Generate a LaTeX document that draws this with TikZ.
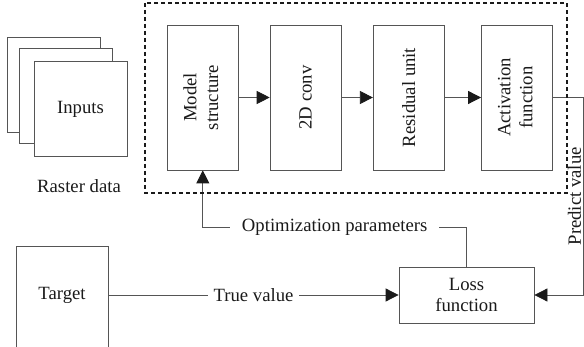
\documentclass[tikz,border=0pt]{standalone}
\usepackage{fontspec}
\setmainfont{Liberation Serif}
\usetikzlibrary{positioning,arrows.meta}
\definecolor{linegray}{HTML}{555555}
\definecolor{tipdark}{HTML}{1A1A1A}
\tikzset{
	txt/.style={font=\fontsize{18.7}{21.8}\selectfont, text=tipdark},
	block/.style={txt, draw=linegray, line width=0.8pt, fill=white, inner sep=0pt,
		minimum width=71pt, minimum height=145pt},
	sheet/.style={block, minimum width=93pt, minimum height=95pt},
	frame/.style={draw=tipdark, line width=1.1pt, dash pattern=on 4pt off 3pt},
	conn/.style={draw=linegray, line width=0.8pt},
	arr/.style={conn, -{Triangle[length=13pt, width=13pt, color=tipdark]}},
	lbl/.style={txt, fill=white, inner ysep=2pt, inner xsep=6pt}
}
\begin{document}
\begin{tikzpicture}[x=1pt, y=-1pt]
	\useasboundingbox (0,0) rectangle (584,347);
	\clip (0,0) rectangle (584,347);
	% input stack
	\node[sheet] (back) at (53.5,85) {};
	\node[sheet] (mid) at (65.5,95.5) {};
	\node[sheet] (inputs) at (80.5,109) {Inputs};
	\node[txt] (raster) at (79,186) {Raster data};
	% network blocks
	\node[block] (model) at (202.8,97.5)
		{\rotatebox{90}{\begin{tabular}{@{}c@{}}Model\\structure\end{tabular}}};
	\node[block, right=31pt of model] (conv) {\rotatebox{90}{2D conv}};
	\node[block, right=31.4pt of conv] (resid) {\rotatebox{90}{Residual unit}};
	\node[block, right=36.4pt of resid] (act)
		{\rotatebox{90}{\begin{tabular}{@{}c@{}}Activation\\function\end{tabular}}};
	% loss part
	\node[block, minimum width=135pt, minimum height=56pt, align=center] (loss)
		at (466.5,295) {Loss\\function};
	\node[block, minimum width=92pt, minimum height=130pt, anchor=north] (target) at (62,246) {};
	\node[txt] (targetlbl) at (62,295) {Target};
	\coordinate (opt) at (0,227);
	\coordinate (pv) at (583,0);
	% connectors
	\draw[arr] (model) -- (conv);
	\draw[arr] (conv) -- (resid);
	\draw[arr] (resid) -- (act);
	\draw[arr] (target.east |- targetlbl) -- node[lbl] {True value} (loss.west);
	\draw[arr] (loss.north) -- (loss.north |- opt)
		-- node[lbl, inner xsep=12pt] {Optimization parameters} (model.south |- opt)
		-- (model.south);
	\draw[arr] (act.east) -- (act.east -| pv)
		-- node[lbl, xshift=-8.5pt, rotate=90, inner xsep=2pt, inner ysep=0pt] {Predict value} (loss.east -| pv)
		-- (loss.east);
	% dashed frame round the network
	\draw[frame] (145,3) rectangle (567,193);
\end{tikzpicture}
\end{document}
